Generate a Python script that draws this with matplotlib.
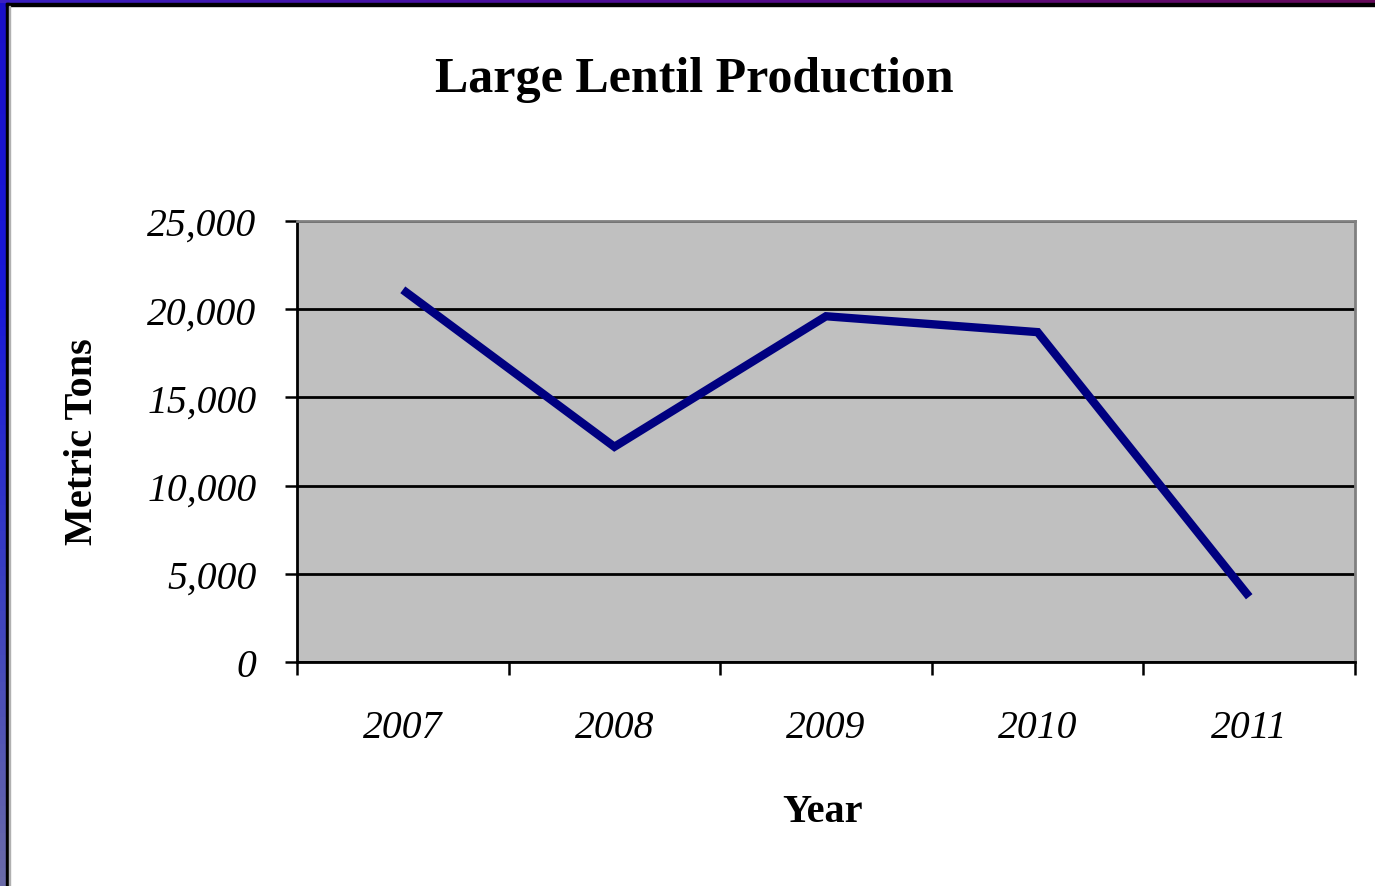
import matplotlib
matplotlib.use("Agg")
import matplotlib.pyplot as plt
import numpy as np
from matplotlib.ticker import FixedLocator, FuncFormatter
from matplotlib.colors import LinearSegmentedColormap

years = ["2007", "2008", "2009", "2010", "2011"]
production = [21100, 12200, 19600, 18700, 3700]
yticks = [0, 5000, 10000, 15000, 20000, 25000]

W, H = 1375, 887
fig = plt.figure(figsize=(W / 100, H / 100), dpi=100)
fig.patch.set_facecolor("white")

# decorative slide border: gradients
bg = fig.add_axes([0, 0, 1, 1], zorder=-10)
bg.set_axis_off()
left_grad = np.linspace(0, 1, 100).reshape(-1, 1)
cm_left = LinearSegmentedColormap.from_list("l", ["#1a10c8", "#1818d8", "#3a40c0", "#6a6aa8"])
bg.imshow(left_grad, cmap=cm_left, extent=[0, 6, H, 0], aspect="auto")
top_grad = np.linspace(0, 1, 100).reshape(1, -1)
cm_top = LinearSegmentedColormap.from_list("t", ["#3a20c0", "#4a10a0", "#5a0a80", "#660a5a"])
bg.imshow(top_grad, cmap=cm_top, extent=[0, W, 4, 0], aspect="auto")
bg.add_patch(plt.Rectangle((6, 4), 3, H, color="black"))
bg.add_patch(plt.Rectangle((6, 4), W, 3, color="black"))
bg.add_patch(plt.Rectangle((9, 7), 1.5, H, color="#b0b0b0"))
bg.set_xlim(0, W)
bg.set_ylim(H, 0)

ax = fig.add_axes([297 / W, 1 - 663 / H, (1355 - 297) / W, (663 - 222) / H])
ax.set_facecolor("#c0c0c0")
x = np.arange(len(years))
ax.plot(x, production, color="#000080", lw=6, solid_capstyle="butt", solid_joinstyle="miter", zorder=3)

ax.set_xlim(-0.5, len(years) - 0.5)
ax.set_ylim(0, 25000)
ax.yaxis.set_major_locator(FixedLocator(yticks))
ax.yaxis.set_major_formatter(FuncFormatter(lambda v, p: f"{int(v):,}"))
ax.grid(axis="y", color="black", lw=2.0, zorder=1)
ax.set_axisbelow(True)

ax.set_xticks(np.arange(-0.5, len(years), 1.0))
ax.set_xticklabels([])
ax.set_xticks(x, minor=True)
ax.set_xticklabels(years, minor=True)
ax.tick_params(axis="x", which="major", length=9, width=1.8, direction="out", color="black")
ax.tick_params(axis="x", which="minor", length=0, pad=34)
ax.tick_params(axis="y", length=9, width=1.8, direction="out", pad=20)

serif = ["Liberation Serif", "DejaVu Serif"]
for lab in ax.get_yticklabels() + ax.get_xticklabels(minor=True):
    lab.set_fontfamily(serif)
    lab.set_fontstyle("italic")
    lab.set_fontsize(28.5)

for s in ["left", "bottom"]:
    ax.spines[s].set_color("black")
    ax.spines[s].set_linewidth(2.0)
for s in ["top", "right"]:
    ax.spines[s].set_color("#808080")
    ax.spines[s].set_linewidth(2.0)

fig.text(694 / W, 1 - 80 / H, "Large Lentil Production", ha="center", va="center",
         fontsize=36, fontweight="bold", family=serif)
fig.text(823 / W, 1 - 813 / H, "Year", ha="center", va="center",
         fontsize=29, fontweight="bold", family=serif)
fig.text(83 / W, 1 - 442 / H, "Metric Tons", ha="center", va="center", rotation=90,
         fontsize=29, fontweight="bold", family=serif)

fig.savefig("out.png", dpi=100)
